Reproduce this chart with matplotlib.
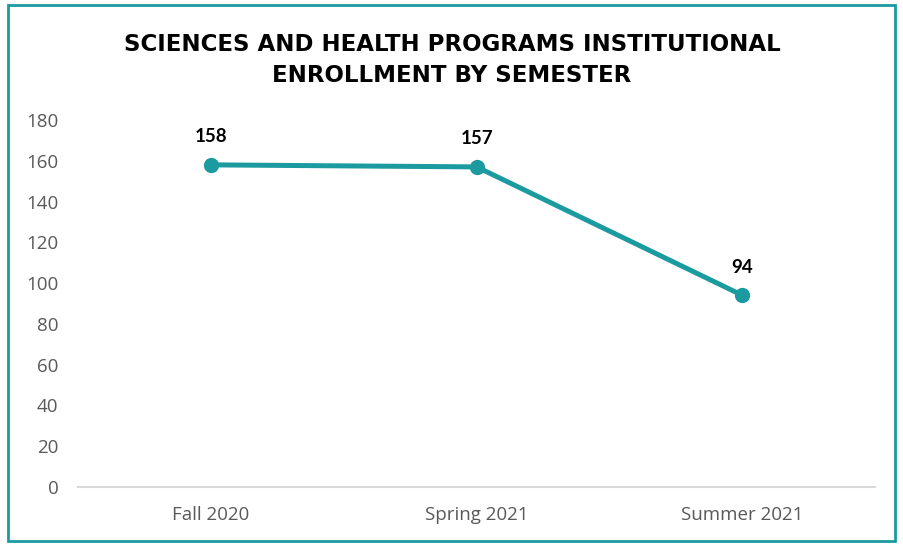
import numpy as np
from matplotlib import pyplot as plt
from matplotlib.patches import Rectangle

# 数据
semesters = ['Fall 2020', 'Spring 2021', 'Summer 2021']
enrollment = [158, 157, 94]
y_ticks = list(range(0, 181, 20))

teal = '#1B9AA0'
gray = '#595959'

fig = plt.figure(figsize=(9.04, 5.45), dpi=100)
ax = fig.add_axes([0.0863, 0.1064, 0.882, 0.6734])

x = np.arange(len(semesters))
ax.plot(x, enrollment, color=teal, linewidth=3.6, marker='o', markersize=10,
        solid_capstyle='round', zorder=3)
for xi, v in zip(x, enrollment):
    ax.annotate(str(v), (xi, v), xytext=(0, 14), textcoords='offset points',
                ha='center', va='bottom', fontsize=13.5, fontweight='bold',
                family='Lato', color='black')

ax.set_xlim(-0.5, 2.5)
ax.set_ylim(0, 180)
ax.set_yticks(y_ticks)
ax.set_xticks(x)
ax.set_xticklabels(semesters)
for s in ['top', 'right', 'left']:
    ax.spines[s].set_visible(False)
ax.spines['bottom'].set_color('#D9D9D9')
ax.spines['bottom'].set_linewidth(1.5)
ax.tick_params(axis='both', length=0, labelsize=13.5, labelcolor=gray)
ax.tick_params(axis='x', pad=14)
ax.tick_params(axis='y', pad=14)
for lab in ax.get_xticklabels() + ax.get_yticklabels():
    lab.set_family('Open Sans')

fig.text(0.5, 0.89, 'SCIENCES AND HEALTH PROGRAMS INSTITUTIONAL\nENROLLMENT BY SEMESTER',
         ha='center', va='center', fontsize=16.5, fontweight='bold',
         family='DejaVu Sans', linespacing=1.45)

# 外框
fig.patches.append(Rectangle((0.0085, 0.008), 0.982, 0.982, transform=fig.transFigure,
                             fill=False, edgecolor=teal, linewidth=2))

fig.savefig('out.png', dpi=100)
